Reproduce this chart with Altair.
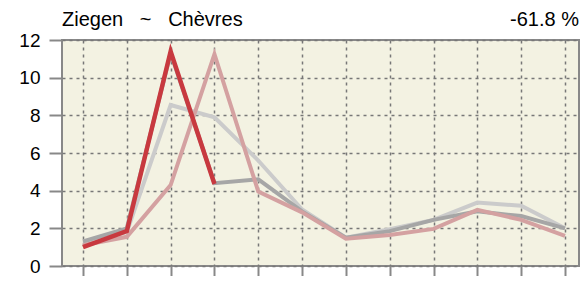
import altair as alt
import pandas as pd

months = list(range(1, 13))
light_gray = [1.2, 1.8, 8.55, 7.9, 5.6, 3.0, 1.5, 1.95, 2.45, 3.37, 3.2, 2.0]
dark_gray = [1.3, 2.0, 11.3, 4.4, 4.6, 2.9, 1.5, 1.85, 2.45, 2.9, 2.65, 2.0]
pink = [1.1, 1.55, 4.3, 11.25, 3.95, 2.85, 1.45, 1.65, 1.97, 2.98, 2.45, 1.6]
red = [1.0, 1.85, 11.4, 4.35]
title_text = "Ziegen\u00a0\u00a0\u00a0~\u00a0\u00a0\u00a0Chèvres"
change_text = "-61.8 %"

series = [
    ("light", light_gray, "#cbcbcb", 4),
    ("dark", dark_gray, "#a6a6a6", 4),
    ("pink", pink, "#d4a1a1", 4),
    ("red", red, "#c8393f", 4.5),
]

rows = []
for name, vals, _, _ in series:
    for m, v in zip(months, vals):
        rows.append({"month": m, "value": v, "series": name})
df = pd.DataFrame(rows)
labels_df = pd.DataFrame({"t": [title_text], "c": [change_text]})

W, H = 517, 226
FONT = "Liberation Sans"

x = alt.X("month:Q", scale=alt.Scale(domain=[0.5208, 12.3195], nice=False, zero=False),
          axis=alt.Axis(values=months, labels=False, title=None, tickSize=12,
                        tickColor="#888888", tickWidth=2, domain=False, grid=True,
                        gridDash=[3, 4], gridColor="#777777", gridWidth=1.5))
y = alt.Y("value:Q", scale=alt.Scale(domain=[0, 12], nice=False),
          axis=alt.Axis(values=[0, 2, 4, 6, 8, 10, 12], title=None, tickSize=13,
                        tickColor="#888888", tickWidth=2, domain=False,
                        labelFont=FONT, labelFontSize=19, labelColor="#000000",
                        labelPadding=9, grid=True, gridDash=[3, 4],
                        gridColor="#777777", gridWidth=1.5))

base = alt.Chart(df)
layers = []
for name, _, color, w in series:
    layers.append(
        base.transform_filter(alt.datum.series == name)
        .mark_line(color=color, strokeWidth=w, strokeJoin="miter", strokeCap="butt")
        .encode(x=x, y=y)
    )

title_left = alt.Chart(labels_df).mark_text(
    font=FONT, fontSize=20, align="left", baseline="alphabetic", color="#000000"
).encode(text="t:N", x=alt.value(0), y=alt.value(-14))

title_right = alt.Chart(labels_df).mark_text(
    font=FONT, fontSize=20, align="right", baseline="alphabetic", color="#000000"
).encode(text="c:N", x=alt.value(W), y=alt.value(-14))

chart = alt.layer(*layers, title_left, title_right).properties(
    width=W, height=H,
    background="#ffffff",
    autosize=alt.AutoSizeParams(type="none"),
    padding={"left": 54, "top": 32, "right": 1, "bottom": 10},
).configure_view(
    fill="#f3f2e2", stroke="#888888", strokeWidth=2
)

chart.save("out.html", embed_options={"renderer": "svg", "actions": False})
